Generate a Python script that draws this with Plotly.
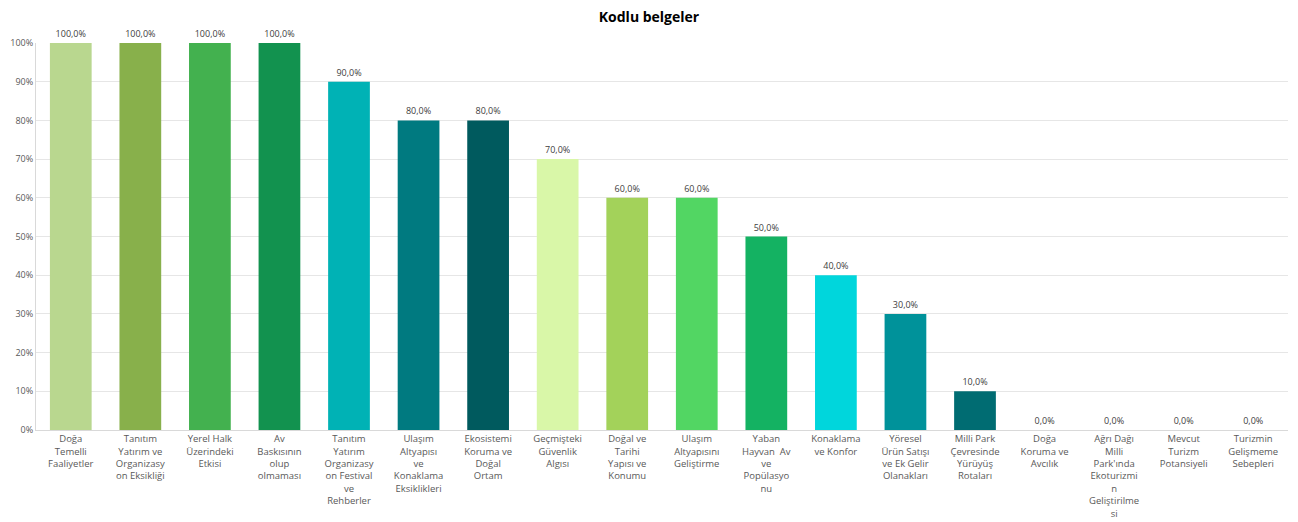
import plotly.graph_objects as go

categories = [
    "Doğa<br>Temelli<br>Faaliyetler",
    "Tanıtım<br>Yatırım ve<br>Organizasy<br>on Eksikliği",
    "Yerel Halk<br>Üzerindeki<br>Etkisi",
    "Av<br>Baskısının<br>olup<br>olmaması",
    "Tanıtım<br>Yatırım<br>Organizasy<br>on Festival<br>ve<br>Rehberler",
    "Ulaşım<br>Altyapısı<br>ve<br>Konaklama<br>Eksiklikleri",
    "Ekosistemi<br>Koruma ve<br>Doğal<br>Ortam",
    "Geçmişteki<br>Güvenlik<br>Algısı",
    "Doğal ve<br>Tarihi<br>Yapısı ve<br>Konumu",
    "Ulaşım<br>Altyapısını<br>Geliştirme",
    "Yaban<br>Hayvan  Av<br>ve<br>Popülasyo<br>nu",
    "Konaklama<br>ve Konfor",
    "Yöresel<br>Ürün Satışı<br>ve Ek Gelir<br>Olanakları",
    "Milli Park<br>Çevresinde<br>Yürüyüş<br>Rotaları",
    "Doğa<br>Koruma ve<br>Avcılık",
    "Ağrı Dağı<br>Milli<br>Park'ında<br>Ekoturizmi<br>n<br>Geliştirilme<br>si",
    "Mevcut<br>Turizm<br>Potansiyeli",
    "Turizmin<br>Gelişmeme<br>Sebepleri",
]
values = [1.0, 1.0, 1.0, 1.0, 0.9, 0.8, 0.8, 0.7, 0.6, 0.6, 0.5, 0.4, 0.3, 0.1, 0.0, 0.0, 0.0, 0.0]
colors = ["#b9d78f", "#88b04b", "#43b14f", "#12924f", "#00b2b5", "#007a80", "#005a5e",
          "#d9f7a8", "#a3d25a", "#52d663", "#14b262", "#00d6dc", "#00929a", "#006c72",
          "#00b2b5", "#007a80", "#005a5e", "#12924f"]
tick_vals = [0, 0.1, 0.2, 0.3, 0.4, 0.5, 0.6, 0.7, 0.8, 0.9, 1.0]

fig = go.Figure(go.Bar(
    x=list(range(len(categories))),
    y=values,
    marker=dict(color=colors, line=dict(width=0)),
    texttemplate="%{y:.1%}",
    textposition="outside",
    textfont=dict(size=9, color="#404040"),
    cliponaxis=False,
))

fig.update_layout(
    width=1298, height=522,
    separators=",.",
    title=dict(text="<b>Kodlu belgeler</b>", x=0.5, xanchor="center", y=0.967, yanchor="middle",
               font=dict(size=14, color="#000000", family="Open Sans")),
    font=dict(family="Open Sans", size=9, color="#595959"),
    paper_bgcolor="white", plot_bgcolor="white",
    margin=dict(l=36, r=10, t=43, b=92, autoexpand=False),
    bargap=0.4,
    showlegend=False,
)
fig.update_xaxes(
    tickmode="array", tickvals=list(range(len(categories))), ticktext=categories,
    tickangle=0, showline=True, linecolor="#d9d9d9", linewidth=1,
    showgrid=False, range=[-0.5, len(categories) - 0.5], automargin=False,
    ticklabelstandoff=0,
    tickfont=dict(size=9.5, color="#595959"),
)
fig.update_yaxes(
    range=[0, 1.0], tickvals=tick_vals, tickformat=".0%", automargin=False,
    showgrid=True, gridcolor="#e6e6e6", gridwidth=1,
    showline=True, linecolor="#d9d9d9", linewidth=1,
    zeroline=False, tickfont=dict(size=9, color="#595959"),
)

fig.write_html("out.html")
